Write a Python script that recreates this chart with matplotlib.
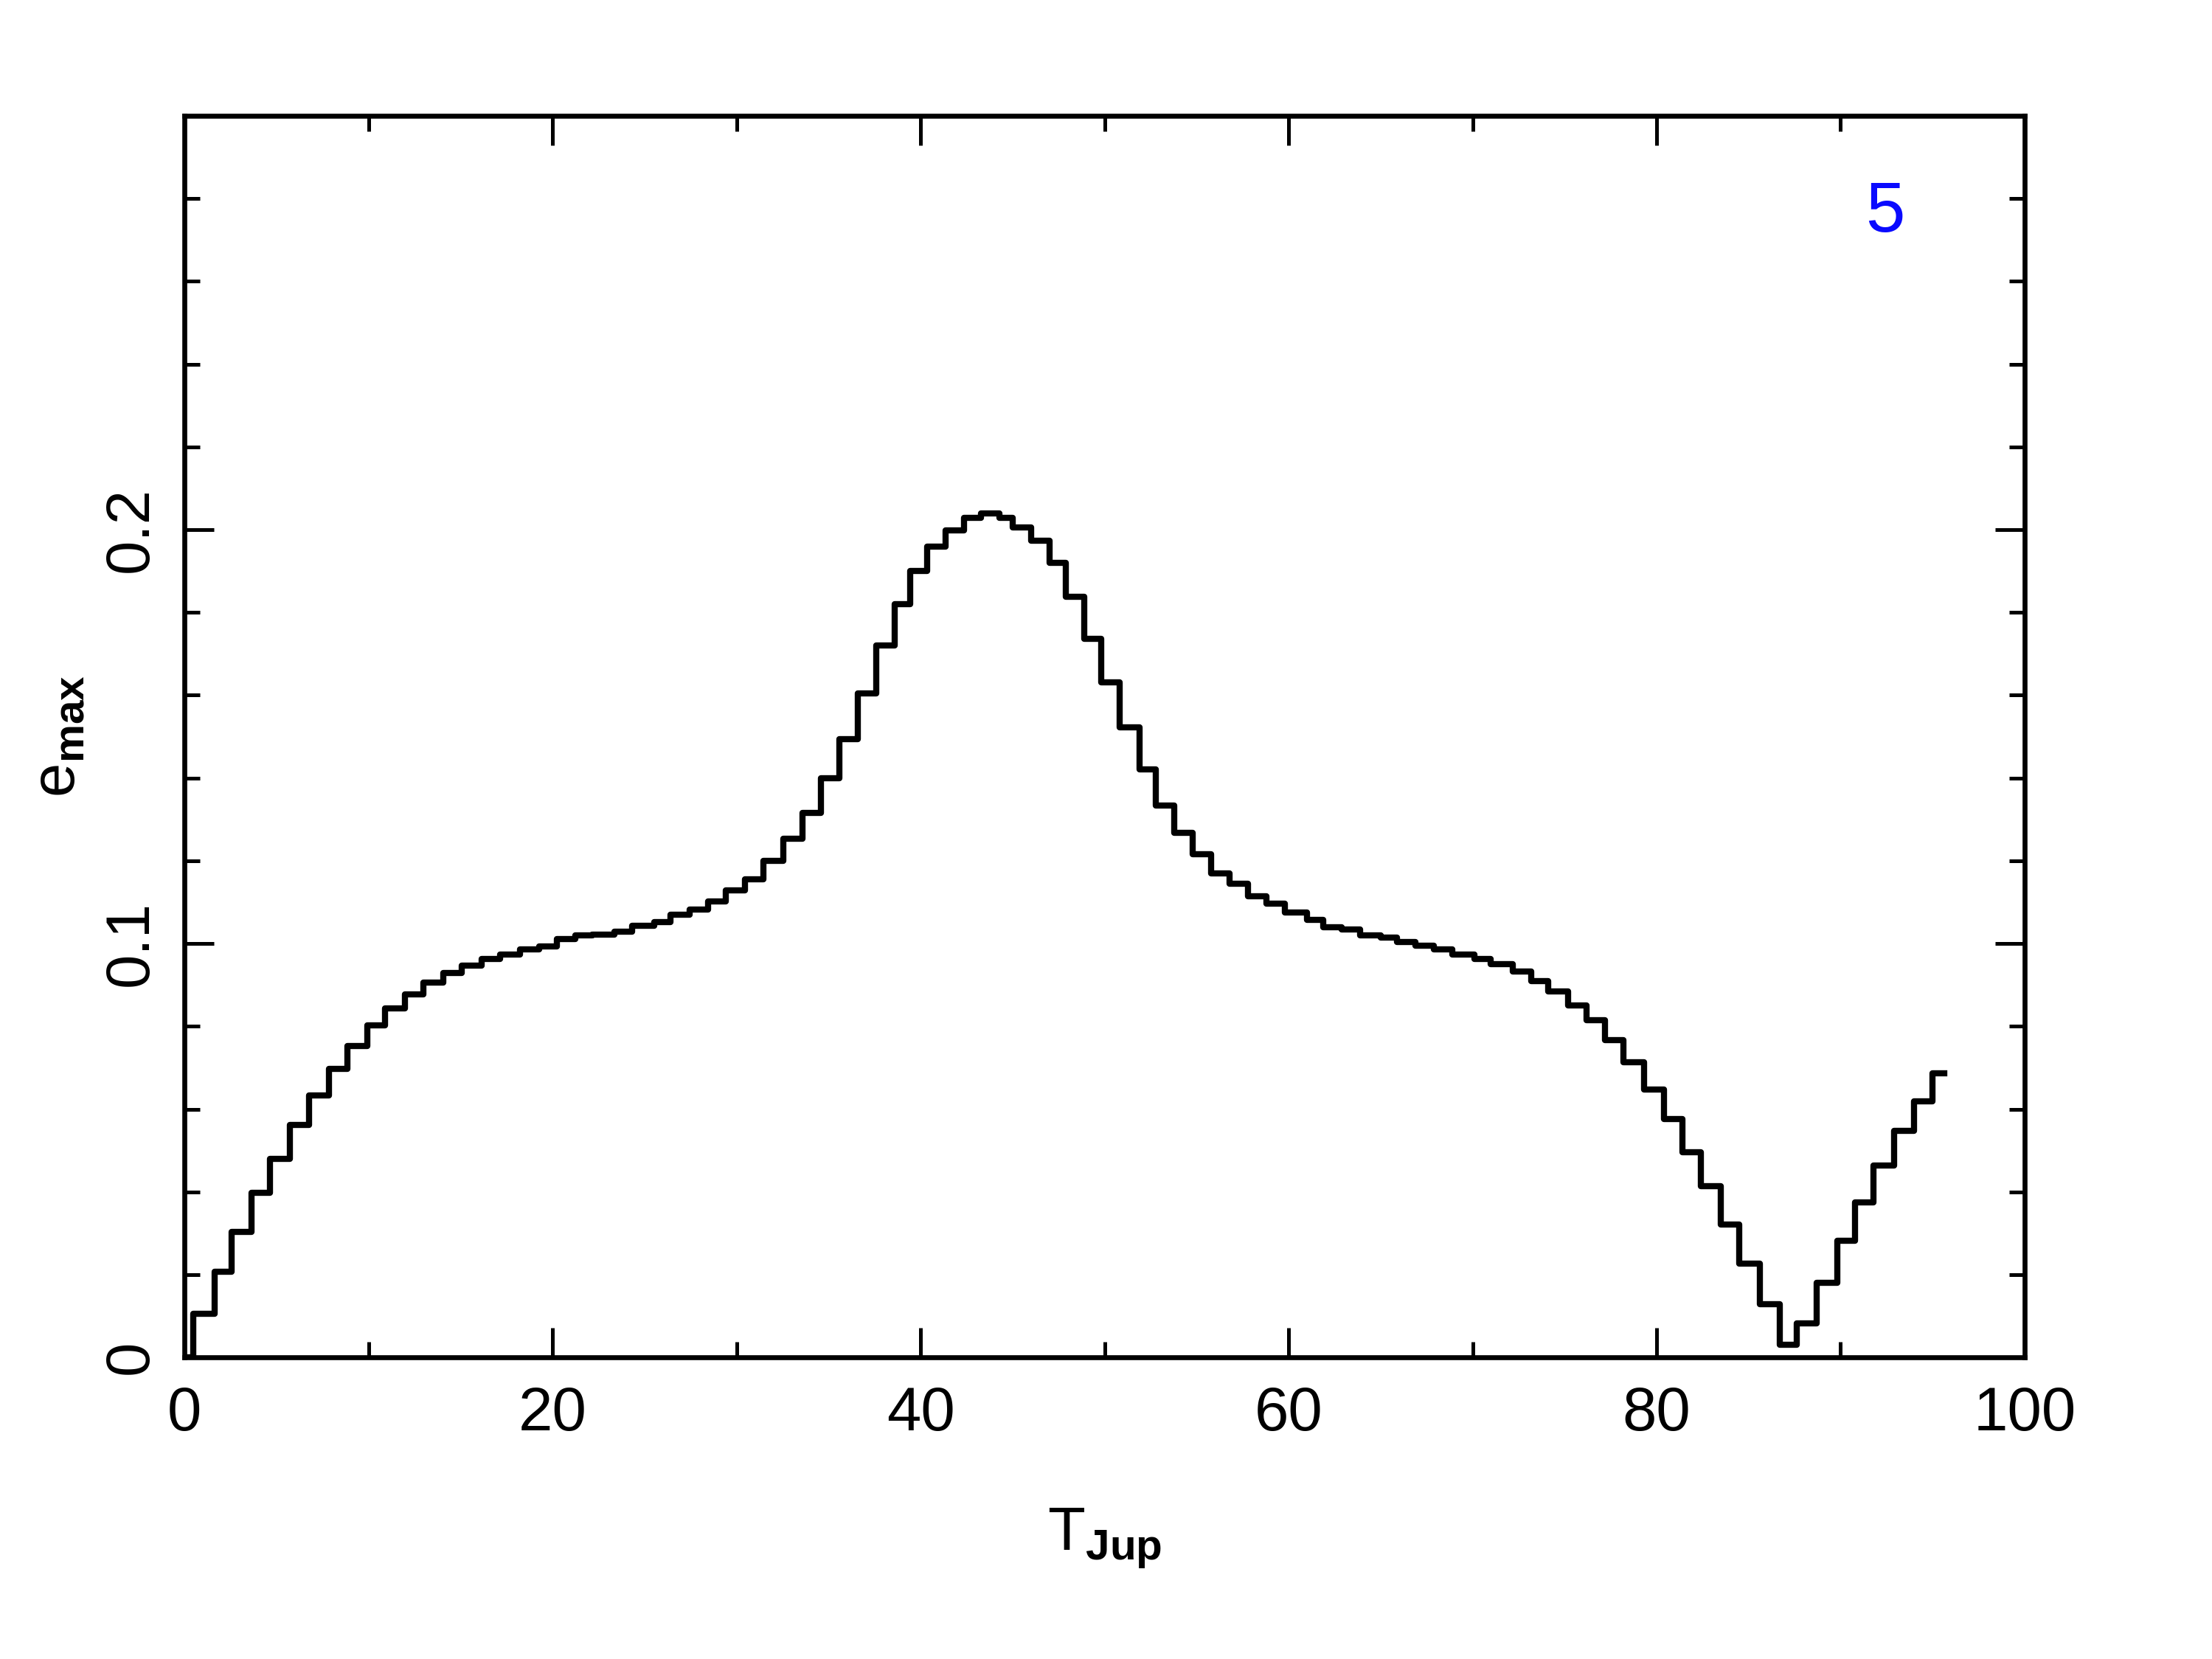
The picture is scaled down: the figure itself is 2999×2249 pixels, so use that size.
import numpy as np
import matplotlib
matplotlib.use("Agg")
import matplotlib.pyplot as plt
from matplotlib.ticker import MultipleLocator


# --------------------------
# data (start of each step, e_max on that step)
# --------------------------

t_jup = [0, 0.47, 1.62, 2.57, 3.65, 4.66, 5.74, 6.76, 7.84, 8.85, 9.93,
         10.88, 11.96, 12.97, 14.05, 15.07, 16.15, 17.16, 18.24, 19.26,
         20.24, 21.24, 22.18, 23.38, 24.32, 25.52, 26.39, 27.46, 28.46,
         29.40, 30.46, 31.46, 32.53, 33.60, 34.60, 35.60, 36.61, 37.61,
         38.6, 39.45, 40.35, 41.35, 42.35, 43.3, 44.3, 45.0, 46.0, 47.0,
         47.9, 48.9, 49.8, 50.8, 51.9, 52.8, 53.8, 54.8, 55.8, 56.8, 57.8,
         58.8, 59.8,
         61.0, 61.9, 62.9, 63.9, 65.0, 65.9, 66.9, 67.9, 68.9, 70.1, 71.0,
         72.2, 73.2, 74.1, 75.2, 76.2, 77.2, 78.2, 79.3,
         80.4, 81.4, 82.4, 83.5, 84.5, 85.6, 86.7, 87.6, 88.7, 89.8, 90.8,
         91.8, 92.9, 94.0, 95.0, 95.65]

e_max = [0, 0.0105, 0.0207, 0.0303, 0.0398, 0.0480, 0.0561, 0.0633, 0.0697,
         0.0752, 0.0803, 0.0844, 0.0878, 0.0905, 0.0929, 0.0946, 0.0963,
         0.0973, 0.0986, 0.0993,
         0.1011, 0.1019, 0.1022, 0.1028, 0.1043, 0.1052, 0.1070, 0.1082,
         0.1102, 0.1129, 0.1156, 0.1200, 0.1253, 0.1316, 0.1399, 0.1494,
         0.1604, 0.1720,
         0.182, 0.190, 0.1959, 0.1999, 0.2028, 0.2039, 0.2028, 0.2006,
         0.1973, 0.1919, 0.1838, 0.1737, 0.1631, 0.1522, 0.1420, 0.1333,
         0.1267, 0.1216, 0.1169, 0.1144, 0.1115, 0.1096, 0.1075,
         0.1058, 0.1040, 0.1034, 0.1019, 0.1015, 0.1004, 0.0995, 0.0986,
         0.0974, 0.0963, 0.0951, 0.0933, 0.0909, 0.0885, 0.0850, 0.0814,
         0.0766, 0.0713, 0.0648,
         0.0576, 0.0496, 0.0413, 0.0321, 0.0226, 0.0128, 0.0030, 0.0083,
         0.0181, 0.0282, 0.0374, 0.0463, 0.0547, 0.0618, 0.0686, 0.0686]

x_ticks = [0, 20, 40, 60, 80, 100]
y_ticks = [0, 0.1, 0.2]
y_tick_labels = ["0", "0.1", "0.2"]
panel_label = "5"


# --------------------------
# style
# --------------------------

plt.rcParams["font.family"] = ["Liberation Sans", "DejaVu Sans"]
plt.rcParams["mathtext.fontset"] = "custom"
plt.rcParams["mathtext.rm"] = "Liberation Sans"
plt.rcParams["mathtext.bf"] = "Liberation Sans:bold"
plt.rcParams["mathtext.it"] = "Liberation Sans:italic"

fig = plt.figure(figsize=(2999 / 300, 2249 / 300), dpi=300)
ax = fig.add_axes([0.0834, 0.1818, 0.8319, 0.7484])

ax.step(t_jup, e_max, where="post", color="black", lw=2.0)

ax.set_xlim(0, 100)
ax.set_ylim(0, 0.3)

ax.set_xticks(x_ticks)
ax.set_yticks(y_ticks)
ax.set_yticklabels(y_tick_labels, rotation=90, va="center")
ax.xaxis.set_minor_locator(MultipleLocator(10))
ax.yaxis.set_minor_locator(MultipleLocator(0.02))

ax.tick_params(which="both", direction="in", top=True, right=True,
               width=1.2, labelsize=20)
ax.tick_params(which="major", length=9.5)
ax.tick_params(which="minor", length=5)
ax.tick_params(axis="x", pad=9)
ax.tick_params(axis="y", pad=8)

for s in ax.spines.values():
    s.set_linewidth(1.6)

ax.set_xlabel(r"$\mathrm{T}_{\mathbf{Jup}}$", fontsize=20, labelpad=21)
ax.set_ylabel(r"$\mathrm{e}_{\mathbf{max}}$", fontsize=20, labelpad=5)

ax.text(0.924, 0.907, panel_label, transform=ax.transAxes, color="#0a0aff",
        fontsize=23, ha="center", va="baseline")

fig.savefig("out.png", dpi=300)
